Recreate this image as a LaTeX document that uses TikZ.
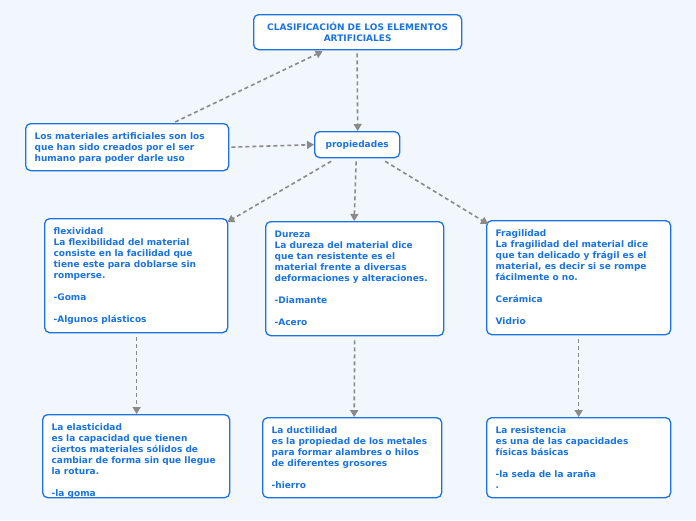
\documentclass[tikz,border=0pt]{standalone}
\usepackage{fontspec}
\setmainfont{DejaVu Sans}
\usetikzlibrary{arrows.meta}
\definecolor{bg}{HTML}{F2F6FD}
\definecolor{bl}{HTML}{1A73E0}
\definecolor{ar}{HTML}{8A8A8A}
\tikzset{
 box/.style={draw=bl,line width=1.3pt,fill=white,rounded corners=5pt,inner sep=0pt,anchor=north west,text=bl,font=\bfseries\fontsize{9}{11}\selectfont},
 con/.style={draw=ar,line width=1.6pt,dash pattern=on 4pt off 3pt,-{Triangle[length=7pt,width=8pt]}}
}
\newcommand{\bx}[6]{\node[box,minimum width=#4pt,minimum height=#5pt] (#1) at (#2pt,-#3pt) {\parbox[t][\dimexpr#5pt-19pt\relax][t]{\dimexpr#4pt-18pt\relax}{\raggedright #6}};}
\begin{document}
\begin{tikzpicture}
\fill[bg] (0,0) rectangle (696pt,-520pt);
\node[box,minimum width=208pt,minimum height=35pt] (title) at (253pt,-14pt) {\parbox{200pt}{\centering CLASIFICACIÓN DE LOS ELEMENTOS\\ARTIFICIALES}};
\bx{intro}{25}{123}{203}{47}{Los materiales artificiales son los que han sido creados por el ser humano para poder darle uso}
\node[box,minimum width=85pt,minimum height=26pt] (prop) at (314pt,-131pt) {propiedades};
\bx{flex}{44}{218}{183}{114}{flexividad\\La flexibilidad del material consiste en la facilidad que tiene este para doblarse sin romperse.\\[11pt]-Goma\\[11pt]-Algunos plásticos}
\bx{dur}{265}{221}{178}{114}{Dureza\\La dureza del material dice\\que tan resistente es el\\material frente a diversas\\deformaciones y alteraciones.\\[11pt]-Diamante\\[11pt]-Acero}
\bx{frag}{486}{220}{184}{114}{Fragilidad\\La fragilidad del material dice que tan delicado y frágil es el material, es decir si se rompe fácilmente o no.\\[11pt]Cerámica\\[11pt]Vidrio}
\bx{ela}{42}{414}{187}{83}{La elasticidad\\es la capacidad que tienen ciertos materiales sólidos de cambiar de forma sin que llegue la rotura.\\[11pt]-la goma}
\bx{duc}{262}{417}{179}{80}{La ductilidad\\es la propiedad de los metales para formar alambres o hilos de diferentes grosores\\[11pt]-hierro}
\bx{res}{486}{417}{184}{80}{La resistencia\\es una de las capacidades\\físicas básicas\\[11pt]-la seda de la araña\\.}
\draw[con] ([xshift=48pt,yshift=1pt]intro.north) -- ([xshift=-35pt,yshift=-1pt]title.south);
\draw[con] ([xshift=-0.5pt,yshift=-3pt]title.south) -- ([xshift=0.5pt]prop.north);
\draw[con] ([xshift=2pt]intro.east) -- (prop.west);
\draw[con] ([xshift=-26pt,yshift=-3pt]prop.south) -- ([xshift=-1pt,yshift=-4pt]flex.north east);
\draw[con] ([xshift=-1pt,yshift=-3pt]prop.south) -- ([xshift=-0.5pt]dur.north);
\draw[con] ([xshift=28pt,yshift=-3pt]prop.south) -- ([xshift=2pt,yshift=-4pt]frag.north west);
\draw[con] ([yshift=-4pt,xshift=0.5pt]flex.south) -- ([xshift=0.5pt]flex.south |- ela.north);
\draw[con] ([yshift=-4pt]dur.south) -- ([xshift=-0.5pt]dur.south |- duc.north);
\draw[con] ([yshift=-4pt]frag.south) -- ([xshift=0pt]frag.south |- res.north);
\end{tikzpicture}
\end{document}
